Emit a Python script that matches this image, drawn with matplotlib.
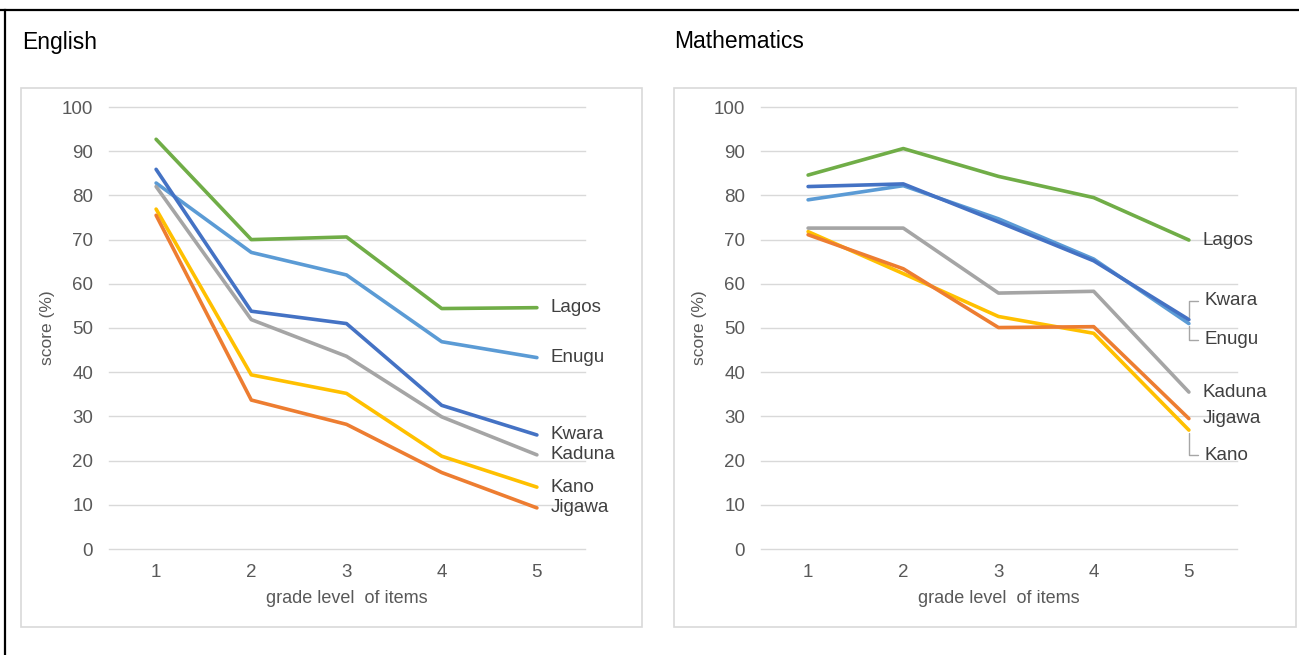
import matplotlib
matplotlib.use("Agg")
import matplotlib.pyplot as plt
from matplotlib.patches import Rectangle
from matplotlib.lines import Line2D

plt.rcParams['font.family'] = ['Liberation Sans', 'DejaVu Sans']

grades = [1, 2, 3, 4, 5]

# English scores (%)
eng_lagos = [92.7, 70.0, 70.6, 54.4, 54.6]
eng_enugu = [82.8, 67.1, 62.0, 46.9, 43.3]
eng_kwara = [85.9, 53.8, 51.0, 32.5, 25.8]
eng_kaduna = [82.0, 51.9, 43.6, 29.9, 21.3]
eng_kano = [76.9, 39.4, 35.2, 21.0, 14.0]
eng_jigawa = [75.5, 33.7, 28.2, 17.3, 9.3]

# Mathematics scores (%)
mat_lagos = [84.6, 90.6, 84.3, 79.5, 69.9]
mat_enugu = [79.0, 82.2, 74.7, 65.6, 51.0]
mat_kwara = [82.0, 82.6, 74.0, 65.2, 51.9]
mat_kaduna = [72.6, 72.6, 57.9, 58.3, 35.5]
mat_kano = [71.8, 62.3, 52.6, 48.8, 26.9]
mat_jigawa = [71.1, 63.4, 50.1, 50.3, 29.5]

colors = {
    'Lagos': '#70AD47',
    'Enugu': '#5B9BD5',
    'Kwara': '#4472C4',
    'Kaduna': '#A5A5A5',
    'Kano': '#FFC000',
    'Jigawa': '#ED7D31',
}

W, H = 1299, 655
fig = plt.figure(figsize=(W / 100, H / 100), dpi=100)


def px_box(x0, y0, x1, y1):
    # pixel box (top-left origin) -> figure fraction [l, b, w, h]
    return [x0 / W, 1 - y1 / H, (x1 - x0) / W, (y1 - y0) / H]


def draw_panel(plot_box, frame_box, title, title_x, series, label_shift):
    # frame around the chart
    fx0, fy0, fx1, fy1 = frame_box
    fig.patches.append(Rectangle((fx0 / W, 1 - fy1 / H), (fx1 - fx0) / W, (fy1 - fy0) / H,
                                 transform=fig.transFigure, fill=False,
                                 edgecolor='#D9D9D9', linewidth=1.2))
    fig.text(title_x / W, 1 - 42 / H, title, fontsize=16.5, color='black',
             ha='left', va='center')

    ax = fig.add_axes(px_box(*plot_box))
    for name, vals in series:
        ax.plot(grades, vals, color=colors[name], linewidth=2.6,
                solid_capstyle='round', solid_joinstyle='round', zorder=3)

    ax.set_xlim(0.5, 5.5)
    ax.set_ylim(0, 100)
    ax.set_xticks(grades)
    ax.set_yticks(range(0, 101, 10))
    ax.grid(axis='y', color='#D9D9D9', linewidth=1)
    for gl in ax.get_ygridlines():
        gl.set_clip_on(False)
    ax.set_axisbelow(True)
    for s in ax.spines.values():
        s.set_visible(False)
    ax.tick_params(length=0, labelsize=13.5, colors='#595959')
    ax.tick_params(axis='y', pad=11)
    ax.tick_params(axis='x', pad=11)
    ax.set_xlabel('grade level  of items', fontsize=13, color='#595959', labelpad=6)
    ax.set_ylabel('score (%)', fontsize=12.5, color='#595959', labelpad=5)

    for name, vals in series:
        dy = label_shift.get(name, 0)
        if dy == 0:
            ax.annotate(name, xy=(5, vals[-1]), xytext=(14, 0),
                        textcoords='offset pixels', fontsize=13.5, color='#404040',
                        ha='left', va='center', annotation_clip=False)
        else:
            ax.annotate(name, xy=(5, vals[-1]), xytext=(16, dy),
                        textcoords='offset pixels', fontsize=13.5, color='#404040',
                        ha='left', va='center', annotation_clip=False,
                        arrowprops=dict(arrowstyle='-', color='#A6A6A6', lw=1,
                                        shrinkA=3, shrinkB=2,
                                        relpos=(0, 0.5),
                                        connectionstyle='angle,angleA=0,angleB=90,rad=0'))
    return ax


eng_series = [('Lagos', eng_lagos), ('Enugu', eng_enugu), ('Kwara', eng_kwara),
              ('Kaduna', eng_kaduna), ('Kano', eng_kano), ('Jigawa', eng_jigawa)]
mat_series = [('Lagos', mat_lagos), ('Enugu', mat_enugu), ('Kwara', mat_kwara),
              ('Kaduna', mat_kaduna), ('Kano', mat_kano), ('Jigawa', mat_jigawa)]

draw_panel((108.5, 107, 584.5, 549), (21, 88, 642, 627), 'English', 22, eng_series, {})
draw_panel((760.5, 107, 1236.5, 549), (674, 88, 1296, 627), 'Mathematics', 674, mat_series,
           {'Kwara': 19, 'Enugu': -16, 'Kano': -25})

# outer border (top and left)
fig.lines.append(Line2D([0, 1], [1 - 10 / H, 1 - 10 / H], transform=fig.transFigure,
                        color='black', linewidth=1.6))
fig.lines.append(Line2D([5 / W, 5 / W], [0, 1 - 10 / H], transform=fig.transFigure,
                        color='black', linewidth=1.6))

fig.savefig('out.png', dpi=100, facecolor='white')
